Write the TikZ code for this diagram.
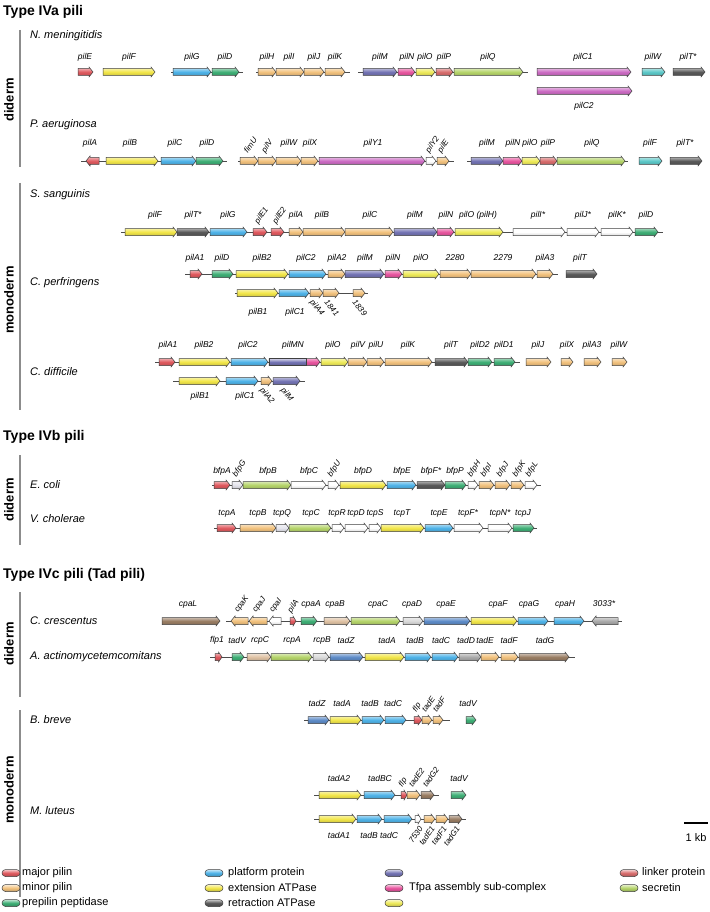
\documentclass[tikz,border=0pt]{standalone}
\usepackage{fontspec}
\setmainfont{Liberation Sans}
\usetikzlibrary{shadings}
\definecolor{maj}{HTML}{E05A5F}
\definecolor{minr}{HTML}{F2C27E}
\definecolor{pep}{HTML}{3FAF76}
\definecolor{plat}{HTML}{4FB3E8}
\definecolor{ext}{HTML}{F2E64A}
\definecolor{ret}{HTML}{5A5A5A}
\definecolor{asmP}{HTML}{7474B4}
\definecolor{asmK}{HTML}{E8559F}
\definecolor{asmY}{HTML}{EEEA5A}
\definecolor{link}{HTML}{D86C6C}
\definecolor{sec}{HTML}{B5D46A}
\definecolor{magn}{HTML}{CC6CC4}
\definecolor{cyan2}{HTML}{5CC8C8}
\definecolor{wht}{HTML}{FFFFFF}
\definecolor{lav}{HTML}{E4E4EC}
\definecolor{brn}{HTML}{9A7E64}
\definecolor{ltan}{HTML}{DFC2A4}
\definecolor{lgray}{HTML}{DADADA}
\definecolor{steel}{HTML}{5E8CC8}
\definecolor{gry}{HTML}{AAAAAA}
\tikzset{
 lab/.style={font=\fontsize{8.5}{9}\selectfont\itshape, inner sep=0pt},
 rlab/.style={font=\fontsize{8}{9}\selectfont\itshape, inner sep=0pt},
 sp/.style={font=\fontsize{11}{12}\selectfont\itshape, inner sep=0pt, anchor=west},
 ttl/.style={font=\fontsize{14}{15}\selectfont\bfseries, inner sep=0pt, anchor=west},
 grp/.style={font=\fontsize{13}{14}\selectfont\bfseries, inner sep=0pt, rotate=90},
 bb/.style={draw=black!70, line width=0.6pt},
 gbar/.style={draw=black!45, line width=1.2pt},
 gout/.style={draw=black!75, line width=0.5pt},
 leg/.style={font=\fontsize{11}{12}\selectfont, inner sep=0pt, anchor=west},
 kbar/.style={draw=black, line width=2.2pt},
}
\newcounter{lc}
\newcommand\gn[5]{%
 \pgfmathsetmacro\gH{min(4,(#3-#2)/2)}%
 \if r#1
  \path[gout, top color=#5!30!white, bottom color=#5!80!black, middle color=#5]
   (#2,#4-3.5) -- ({#3-\gH},#4-3.5) -- ({#3-\gH},#4-5) -- (#3,#4) -- ({#3-\gH},#4+5) -- ({#3-\gH},#4+3.5) -- (#2,#4+3.5) -- cycle;
 \else
  \path[gout, top color=#5!30!white, bottom color=#5!80!black, middle color=#5]
   (#3,#4-3.5) -- ({#2+\gH},#4-3.5) -- ({#2+\gH},#4-5) -- (#2,#4) -- ({#2+\gH},#4+5) -- ({#2+\gH},#4+3.5) -- (#3,#4+3.5) -- cycle;
 \fi}
\newcommand\bl[3]{\draw[bb] (#1,#3) -- (#2,#3);}
\newcommand\lb[3]{\stepcounter{lc}\node[lab] (L\thelc) at (#1,#2) {#3};}
\newcommand\ru[3]{\stepcounter{lc}\node[rlab,rotate=55,anchor=west] (L\thelc) at ({#1-3.5},{#2-9}) {#3};}
\newcommand\rd[3]{\stepcounter{lc}\node[rlab,rotate=-50,anchor=west] (L\thelc) at ({#1-5},{#2+8}) {#3};}
\newcommand\rue[3]{\stepcounter{lc}\node[rlab,rotate=55,anchor=east] (L\thelc) at ({#1+3},{#2+8}) {#3};}
\newcommand\lgi[3]{\path[gout, top color=#3!30!white, bottom color=#3!80!black, middle color=#3, rounded corners=3.5pt] (#1,#2-3.5) rectangle ({#1+18},#2+3.5);}
\begin{document}
\begin{tikzpicture}[x=1pt,y=-1pt]
\useasboundingbox (0,0) rectangle (709,912);
\fill[white] (0,0) rectangle (709,912);
% ---------- titles and groups
\node[ttl] (t1) at (3,12) {Type IVa pili};
\node[ttl] (t2) at (3,437) {Type IVb pili};
\node[ttl] (t3) at (3,575) {Type IVc pili (Tad pili)};
\draw[gbar] (20,30) -- (20,167);
\node[grp] (g1) at (9,100) {diderm};
\draw[gbar] (20,183) -- (20,410);
\node[grp] (g2) at (9,300) {monoderm};
\draw[gbar] (20,455) -- (20,545);
\node[grp] (g3) at (9,500) {diderm};
\draw[gbar] (20,592) -- (20,697);
\node[grp] (g4) at (9,644) {diderm};
\draw[gbar] (20,710) -- (20,897);
\node[grp] (g5) at (9,790) {monoderm};
% ---------- species
\node[sp] (s1) at (30,36) {N. meningitidis};
\node[sp] (s2) at (30,125) {P. aeruginosa};
\node[sp] (s3) at (30,195) {S. sanguinis};
\node[sp] (s4) at (30,283) {C. perfringens};
\node[sp] (s5) at (30,372) {C. difficile};
\node[sp] (s6) at (30,485) {E. coli};
\node[sp] (s7) at (30,519) {V. cholerae};
\node[sp] (s8) at (30,621) {C. crescentus};
\node[sp] (s9) at (30,657) {A. actinomycetemcomitans};
\node[sp] (s10) at (30,720) {B. breve};
\node[sp] (s11) at (30,811) {M. luteus};
% ---------- N. meningitidis
\bl{171}{243}{72}\bl{256}{350}{72}\bl{358}{528}{72}
\gn{r}{78}{93}{72}{maj}\gn{r}{103}{155}{72}{ext}\gn{r}{173}{211}{72}{plat}\gn{r}{212}{239}{72}{pep}
\gn{r}{258}{276}{72}{minr}\gn{r}{276}{304}{72}{minr}\gn{r}{304}{324}{72}{minr}\gn{r}{325}{345}{72}{minr}
\gn{r}{363}{397}{72}{asmP}\gn{r}{398}{415}{72}{asmK}\gn{r}{416}{435}{72}{asmY}\gn{r}{436}{453}{72}{link}\gn{r}{454}{523}{72}{sec}
\gn{r}{537}{631}{72}{magn}\gn{r}{537}{632}{91}{magn}\gn{r}{642}{665}{72}{cyan2}\gn{r}{673}{705}{72}{ret}
\lb{85}{57}{pilE}\lb{129}{57}{pilF}\lb{192}{57}{pilG}\lb{225}{57}{pilD}\lb{267}{57}{pilH}\lb{289}{57}{pilI}
\lb{314}{57}{pilJ}\lb{335}{57}{pilK}\lb{380}{57}{pilM}\lb{407}{57}{pilN}\lb{425}{57}{pilO}\lb{444}{57}{pilP}
\lb{488}{57}{pilQ}\lb{583}{57}{pilC1}\lb{653}{57}{pilW}\lb{688}{57}{pilT*}\lb{584}{106}{pilC2}
% ---------- P. aeruginosa
\bl{81}{227}{161}\bl{238}{454}{161}\bl{467}{628}{161}
\gn{l}{86}{99}{161}{maj}\gn{r}{106}{158}{161}{ext}\gn{r}{161}{196}{161}{plat}\gn{r}{196}{223}{161}{pep}
\gn{r}{240}{258}{161}{minr}\gn{r}{258}{276}{161}{minr}\gn{r}{276}{301}{161}{minr}\gn{r}{301}{318}{161}{minr}
\gn{r}{319}{425}{161}{magn}\gn{r}{426}{436}{161}{wht}\gn{r}{437}{449}{161}{minr}
\gn{r}{471}{503}{161}{asmP}\gn{r}{503}{522}{161}{asmK}\gn{r}{522}{540}{161}{asmY}\gn{r}{540}{557}{161}{link}\gn{r}{557}{625}{161}{sec}
\gn{r}{639}{662}{161}{cyan2}\gn{r}{670}{702}{161}{ret}
\lb{90}{143}{pilA}\lb{130}{143}{pilB}\lb{175}{143}{pilC}\lb{207}{143}{pilD}\lb{289}{143}{pilW}\lb{310}{143}{pilX}
\lb{373}{143}{pilY1}\lb{487}{143}{pilM}\lb{513}{143}{pilN}\lb{530}{143}{pilO}\lb{548}{143}{pilP}\lb{592}{143}{pilQ}
\lb{650}{143}{pilF}\lb{685}{143}{pilT*}
\ru{249}{161}{fimU}\ru{267}{161}{pilV}\ru{431}{161}{pilY2}\ru{443}{161}{pilE}
% ---------- S. sanguinis
\bl{121}{663}{232}
\gn{r}{125}{177}{232}{ext}\gn{r}{177}{209}{232}{ret}\gn{r}{210}{247}{232}{plat}\gn{r}{253}{267}{232}{maj}\gn{r}{271}{284}{232}{maj}
\gn{r}{289}{303}{232}{minr}\gn{r}{303}{345}{232}{minr}\gn{r}{345}{393}{232}{minr}\gn{r}{394}{437}{232}{asmP}\gn{r}{437}{454}{232}{asmK}
\gn{r}{455}{503}{232}{asmY}\gn{r}{513}{565}{232}{wht}\gn{r}{567}{599}{232}{wht}\gn{r}{601}{633}{232}{wht}\gn{r}{635}{658}{232}{pep}
\lb{155}{215}{pilF}\lb{193}{215}{pilT*}\lb{228}{215}{pilG}\lb{296}{215}{pilA}\lb{322}{215}{pilB}\lb{370}{215}{pilC}
\lb{415}{215}{pilM}\lb{446}{215}{pilN}\lb{478}{215}{pilO (pilH)}\lb{538}{215}{pilI*}\lb{583}{215}{pilJ*}\lb{617}{215}{pilK*}\lb{646}{215}{pilD}
\ru{260}{232}{pilE1}\ru{278}{232}{pilE2}
% ---------- C. perfringens
\bl{185}{558}{274}\bl{235}{368}{293}
\gn{r}{190}{202}{274}{maj}\gn{r}{212}{233}{274}{pep}\gn{r}{236}{288}{274}{ext}\gn{r}{289}{326}{274}{plat}\gn{r}{328}{345}{274}{minr}
\gn{r}{345}{384}{274}{asmP}\gn{r}{385}{402}{274}{asmK}\gn{r}{403}{439}{274}{asmY}\gn{r}{440}{471}{274}{minr}\gn{r}{471}{536}{274}{minr}
\gn{r}{537}{553}{274}{minr}\gn{r}{566}{597}{274}{ret}
\gn{r}{237}{278}{293}{ext}\gn{r}{279}{309}{293}{plat}\gn{r}{310}{323}{293}{minr}\gn{r}{323}{339}{293}{minr}\gn{r}{353}{365}{293}{minr}
\lb{195}{258}{pilA1}\lb{222}{258}{pilD}\lb{262}{258}{pilB2}\lb{306}{258}{pilC2}\lb{337}{258}{pilA2}\lb{365}{258}{pilM}
\lb{393}{258}{pilN}\lb{421}{258}{pilO}\lb{455}{258}{2280}\lb{503}{258}{2279}\lb{545}{258}{pilA3}\lb{580}{258}{pilT}
\lb{258}{312}{pilB1}\lb{295}{312}{pilC1}
\rd{316}{293}{pilA4}\rd{331}{293}{1841}\rd{359}{293}{1839}
% ---------- C. difficile
\bl{155}{520}{362}\bl{173}{305}{381}
\gn{r}{159}{175}{362}{maj}\gn{r}{179}{230}{362}{ext}\gn{r}{231}{268}{362}{plat}
\gn{r}{269}{320}{362}{asmK}
\path[gout, top color=asmP!30!white, bottom color=asmP!80!black, middle color=asmP] (269,358.5) rectangle (306,365.5);
\gn{r}{321}{348}{362}{asmY}\gn{r}{348}{367}{362}{minr}\gn{r}{367}{384}{362}{minr}\gn{r}{385}{432}{362}{minr}
\gn{r}{435}{468}{362}{ret}\gn{r}{468}{492}{362}{pep}\gn{r}{494}{515}{362}{pep}
\gn{r}{526}{551}{362}{minr}\gn{r}{561}{573}{362}{minr}\gn{r}{584}{601}{362}{minr}\gn{r}{612}{627}{362}{minr}
\gn{r}{179}{220}{381}{ext}\gn{r}{226}{258}{381}{plat}\gn{r}{261}{272}{381}{minr}\gn{r}{273}{300}{381}{asmP}
\lb{168}{345}{pilA1}\lb{204}{345}{pilB2}\lb{248}{345}{pilC2}\lb{293}{345}{pilMN}\lb{333}{345}{pilO}\lb{358}{345}{pilV}
\lb{376}{345}{pilU}\lb{408}{345}{pilK}\lb{451}{345}{pilT}\lb{480}{345}{pilD2}\lb{504}{345}{pilD1}\lb{538}{345}{pilJ}
\lb{567}{345}{pilX}\lb{592}{345}{pilA3}\lb{619}{345}{pilW}
\lb{200}{396}{pilB1}\lb{245}{396}{pilC1}
\rd{266}{381}{pilA2}\rd{287}{381}{pilM}
% ---------- E. coli
\bl{212}{541}{485}
\gn{r}{214}{230}{485}{maj}\gn{r}{232}{243}{485}{lav}\gn{r}{243}{291}{485}{sec}\gn{r}{291}{326}{485}{wht}\gn{r}{328}{339}{485}{wht}
\gn{r}{340}{386}{485}{ext}\gn{r}{387}{416}{485}{plat}\gn{r}{417}{445}{485}{ret}\gn{r}{445}{466}{485}{pep}\gn{r}{468}{478}{485}{wht}
\gn{r}{479}{494}{485}{minr}\gn{r}{495}{510}{485}{minr}\gn{r}{511}{524}{485}{minr}\gn{r}{525}{537}{485}{wht}
\lb{222}{471}{bfpA}\lb{268}{471}{bfpB}\lb{309}{471}{bfpC}\lb{363}{471}{bfpD}\lb{402}{471}{bfpE}\lb{431}{471}{bfpF*}\lb{455}{471}{bfpP}
\ru{238}{485}{bfpG}\ru{333}{485}{bfpU}\ru{473}{485}{bfpH}\ru{486}{485}{bfpI}\ru{502}{485}{bfpJ}\ru{518}{485}{bfpK}\ru{531}{485}{bfpL}
% ---------- V. cholerae
\bl{214}{537}{528}
\gn{r}{217}{236}{528}{maj}\gn{r}{240}{276}{528}{minr}\gn{r}{276}{289}{528}{lav}\gn{r}{289}{331}{528}{sec}\gn{r}{332}{344}{528}{wht}
\gn{r}{345}{368}{528}{wht}\gn{r}{369}{381}{528}{wht}\gn{r}{381}{424}{528}{ext}\gn{r}{425}{453}{528}{plat}\gn{r}{454}{483}{528}{wht}
\gn{r}{488}{512}{528}{wht}\gn{r}{513}{534}{528}{pep}
\lb{227}{513}{tcpA}\lb{258}{513}{tcpB}\lb{282}{513}{tcpQ}\lb{311}{513}{tcpC}\lb{337}{513}{tcpR}\lb{356}{513}{tcpD}
\lb{375}{513}{tcpS}\lb{402}{513}{tcpT}\lb{439}{513}{tcpE}\lb{468}{513}{tcpF*}\lb{500}{513}{tcpN*}\lb{523}{513}{tcpJ}
% ---------- C. crescentus
\bl{226}{622}{621}
\gn{r}{162}{220}{621}{brn}\gn{l}{231}{248}{621}{minr}\gn{l}{249}{267}{621}{minr}\gn{l}{269}{281}{621}{wht}\gn{r}{290}{296}{621}{maj}
\gn{r}{301}{317}{621}{pep}\gn{r}{324}{350}{621}{ltan}\gn{r}{351}{400}{621}{sec}\gn{r}{403}{423}{621}{lgray}\gn{r}{424}{470}{621}{steel}
\gn{r}{471}{517}{621}{ext}\gn{r}{518}{548}{621}{plat}\gn{r}{554}{584}{621}{plat}\gn{l}{592}{618}{621}{gry}
\lb{188}{604}{cpaL}\lb{311}{604}{cpaA}\lb{335}{604}{cpaB}\lb{378}{604}{cpaC}\lb{412}{604}{cpaD}\lb{446}{604}{cpaE}
\lb{498}{604}{cpaF}\lb{529}{604}{cpaG}\lb{565}{604}{cpaH}\lb{604}{604}{3033*}
\ru{240}{621}{cpaK}\ru{258}{621}{cpaJ}\ru{275}{621}{cpaI}\ru{293}{621}{pilA}
% ---------- A. actinomycetemcomitans
\bl{210}{575}{657}
\gn{r}{215}{222}{657}{maj}\gn{r}{232}{244}{657}{pep}\gn{r}{247}{271}{657}{ltan}\gn{r}{271}{312}{657}{sec}\gn{r}{313}{329}{657}{lgray}
\gn{r}{330}{363}{657}{steel}\gn{r}{365}{404}{657}{ext}\gn{r}{405}{431}{657}{plat}\gn{r}{432}{458}{657}{plat}\gn{r}{459}{481}{657}{gry}
\gn{r}{481}{499}{657}{minr}\gn{r}{501}{518}{657}{minr}\gn{r}{519}{569}{657}{brn}
\lb{217}{640}{flp1}\lb{237}{640}{tadV}\lb{260}{640}{rcpC}\lb{292}{640}{rcpA}\lb{322}{640}{rcpB}\lb{346}{640}{tadZ}
\lb{387}{640}{tadA}\lb{415}{640}{tadB}\lb{441}{640}{tadC}\lb{466}{640}{tadD}\lb{485}{640}{tadE}\lb{509}{640}{tadF}\lb{545}{640}{tadG}
% ---------- B. breve
\bl{304}{450}{720}
\gn{r}{308}{329}{720}{steel}\gn{r}{330}{361}{720}{ext}\gn{r}{362}{384}{720}{plat}\gn{r}{385}{406}{720}{plat}
\gn{r}{414}{422}{720}{maj}\gn{r}{422}{432}{720}{minr}\gn{r}{433}{443}{720}{minr}\gn{r}{466}{476}{720}{pep}
\lb{317}{703}{tadZ}\lb{342}{703}{tadA}\lb{370}{703}{tadB}\lb{393}{703}{tadC}\lb{468}{703}{tadV}
\ru{418}{720}{flp}\ru{427}{720}{tadE}\ru{438}{720}{tadF}
% ---------- M. luteus
\bl{314}{439}{795}\bl{314}{466}{819}
\gn{r}{319}{361}{795}{ext}\gn{r}{364}{395}{795}{plat}\gn{r}{401}{407}{795}{maj}\gn{r}{407}{420}{795}{minr}\gn{r}{421}{434}{795}{brn}
\gn{r}{451}{466}{795}{pep}
\gn{r}{319}{356}{819}{ext}\gn{r}{357}{382}{819}{plat}\gn{r}{384}{412}{819}{plat}\gn{r}{415}{421}{819}{wht}
\gn{r}{424}{435}{819}{minr}\gn{r}{436}{448}{819}{minr}\gn{r}{449}{462}{819}{brn}
\lb{339}{778}{tadA2}\lb{380}{778}{tadBC}\lb{459}{778}{tadV}
\ru{404}{795}{flp}\ru{414}{795}{tadE2}\ru{428}{795}{tadG2}
\lb{339}{835}{tadA1}\lb{369}{835}{tadB}\lb{389}{835}{tadC}
\rue{418}{819}{7530}\rue{430}{819}{tadE1}\rue{442}{819}{tadF1}\rue{455}{819}{tadG1}
% ---------- scale bar
\coordinate (k1) at (684,823);
\coordinate (k2) at (708,823);
\draw[kbar] (k1) -- (k2);
\node[font=\fontsize{11}{12}\selectfont, inner sep=0pt] (kb) at (696,838) {1 kb};
% ---------- legend
\lgi{2}{873}{maj}\node[leg] (e1) at (22,873) {major pilin};
\lgi{2}{888}{minr}\node[leg] (e2) at (22,888) {minor pilin};
\lgi{2}{903}{pep}\node[leg] (e3) at (22,903) {prepilin peptidase};
\lgi{205}{873}{plat}\node[leg] (e4) at (228,873) {platform protein};
\lgi{205}{888}{ext}\node[leg] (e5) at (228,888) {extension ATPase};
\lgi{205}{903}{ret}\node[leg] (e6) at (228,903) {retraction ATPase};
\lgi{385}{873}{asmP}
\lgi{385}{888}{asmK}\node[leg] (e7) at (409,888) {Tfpa assembly sub-complex};
\lgi{385}{903}{asmY}
\lgi{620}{873}{link}\node[leg] (e8) at (642,873) {linker protein};
\lgi{620}{888}{sec}\node[leg] (e9) at (642,888) {secretin};
\end{tikzpicture}
\end{document}
